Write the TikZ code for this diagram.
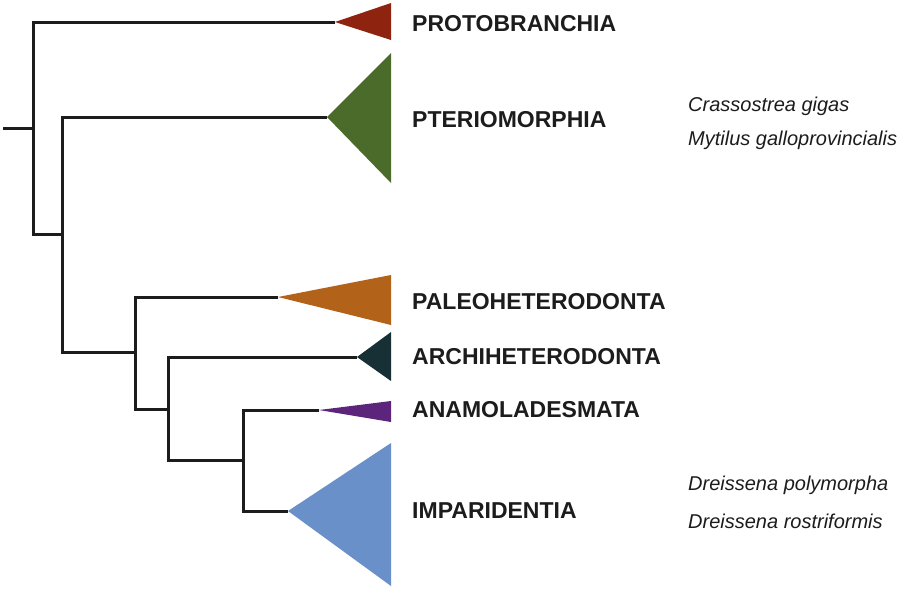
\documentclass[tikz,border=0pt]{standalone}
\usepackage{fontspec}
\setmainfont{Liberation Sans}
\definecolor{cProto}{HTML}{8E2410}
\definecolor{cPterio}{HTML}{4A6B29}
\definecolor{cPaleo}{HTML}{B26219}
\definecolor{cArchi}{HTML}{163036}
\definecolor{cAnamo}{HTML}{5C247A}
\definecolor{cImpar}{HTML}{6A90C9}
\definecolor{ink}{HTML}{1C1C1C}
\tikzset{
  branch/.style={draw=ink, line width=3pt, line join=miter},
  clade/.style={font=\fontsize{23}{27}\selectfont\bfseries, text=ink, anchor=base west, inner sep=0pt},
  species/.style={font=\fontsize{20}{24}\selectfont\itshape, text=ink, anchor=base west, inner sep=0pt},
}
\begin{document}
\begin{tikzpicture}[x=1pt, y=-1pt]
\useasboundingbox (0,0) rectangle (901,590);
% internal nodes
\coordinate (r0) at (3,128.5);
\coordinate (n1) at (33,128.5);
\coordinate (n2) at (62,234.5);
\coordinate (n3) at (135,352);
\coordinate (n4) at (168,409);
\coordinate (n5) at (243,460.5);
% clade tips
\coordinate (tProto) at (335,22);
\coordinate (tPterio) at (327,117);
\coordinate (tPaleo) at (278,297);
\coordinate (tArchi) at (357,357);
\coordinate (tAnamo) at (319,410);
\coordinate (tImpar) at (288,511);
% branches
\draw[branch] (r0) -- (n1);
\draw[branch] (tProto) -| (n1) |- (n2);
\draw[branch] (tPterio) -| (n2) |- (n3);
\draw[branch] (tPaleo) -| (n3) |- (n4);
\draw[branch] (tArchi) -| (n4) |- (n5);
\draw[branch] (tAnamo) -| (n5) |- (tImpar);
% collapsed clades
\fill[cProto] (tProto) -- (391,3) -- (391,40) -- cycle;
\fill[cPterio] (tPterio) -- (391,53) -- (391,183) -- cycle;
\fill[cPaleo] (tPaleo) -- (391,275) -- (391,325) -- cycle;
\fill[cArchi] (tArchi) -- (391,332) -- (391,381) -- cycle;
\fill[cAnamo] (tAnamo) -- (391,401) -- (391,422) -- cycle;
\fill[cImpar] (tImpar) -- (391,443) -- (391,586) -- cycle;
% labels
\node[clade] (lProto) at (412,31) {PROTOBRANCHIA};
\node[clade] (lPterio) at (412,127) {PTERIOMORPHIA};
\node[clade] (lPaleo) at (412,309) {PALEOHETERODONTA};
\node[clade] (lArchi) at (412,364) {ARCHIHETERODONTA};
\node[clade] (lAnamo) at (412,417) {ANAMOLADESMATA};
\node[clade] (lImpar) at (412,518) {IMPARIDENTIA};
\node[species] (sCg) at (688,111) {Crassostrea gigas};
\node[species] (sMg) at (688,145) {Mytilus galloprovincialis};
\node[species] (sDp) at (688,490) {Dreissena polymorpha};
\node[species] (sDr) at (688,528) {Dreissena rostriformis};
\end{tikzpicture}
\end{document}
